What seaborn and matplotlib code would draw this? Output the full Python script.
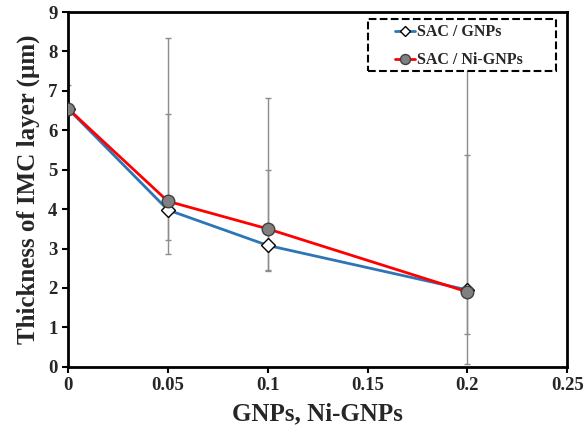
import matplotlib
matplotlib.use("Agg")
import matplotlib.pyplot as plt
from matplotlib.patches import Rectangle
import seaborn as sns
import numpy as np
import pandas as pd

# data
content = [0, 0.05, 0.1, 0.2]
gnps = [6.55, 3.98, 3.08, 1.95]
ni_gnps = [6.55, 4.2, 3.5, 1.9]

# error bar ends (low, high)
gnps_low = [6.55, 3.22, 2.46, 0.84]
gnps_high = [7.15, 6.42, 5.0, 5.38]
ni_low = [6.55, 2.87, 2.42, 0.08]
ni_high = [6.55, 8.35, 6.81, 7.9]

df = pd.DataFrame({
    'content': content * 2,
    'thickness': gnps + ni_gnps,
    'sample': ['SAC / GNPs'] * 4 + ['SAC / Ni-GNPs'] * 4,
})

sns.set_style("ticks")
plt.rcParams['font.family'] = ['Liberation Serif', 'DejaVu Serif']
plt.rcParams['font.weight'] = 'bold'

fig = plt.figure(figsize=(5.86, 4.3), dpi=100)
ax = fig.add_axes([0.116, 0.147, 0.852, 0.825])

# error bars
for vals, lo, hi in [(gnps, gnps_low, gnps_high), (ni_gnps, ni_low, ni_high)]:
    v = np.array(vals)
    yerr = [v - np.array(lo), np.array(hi) - v]
    ax.errorbar(content, v, yerr=yerr, fmt='none', ecolor='#8c8c8c',
                elinewidth=1, capsize=2, capthick=1, zorder=1)

palette = {'SAC / GNPs': '#2e75b6', 'SAC / Ni-GNPs': '#ff0000'}
sns.lineplot(data=df, x='content', y='thickness', hue='sample', style='sample',
             palette=palette, markers={'SAC / GNPs': 'D', 'SAC / Ni-GNPs': 'o'},
             dashes=False, linewidth=2, ax=ax, zorder=3)

# marker faces
for ln in ax.get_lines():
    if ln.get_marker() == 'D':
        ln.set_markerfacecolor('white')
        ln.set_markeredgecolor('black')
        ln.set_markersize(7)
        ln.set_markeredgewidth(1)
    elif ln.get_marker() == 'o':
        ln.set_markerfacecolor('#808080')
        ln.set_markeredgecolor('#404040')
        ln.set_markersize(9)
        ln.set_markeredgewidth(1)

ax.set_xlim(0, 0.25)
ax.set_ylim(0, 9)
ax.set_xticks([0, 0.05, 0.1, 0.15, 0.2, 0.25])
ax.set_xticklabels(['0', '0.05', '0.1', '0.15', '0.2', '0.25'])
ax.set_yticks(range(0, 10))
ax.tick_params(labelsize=13.5, direction='out', length=4, width=1.5, color='black')
for lab in ax.get_xticklabels() + ax.get_yticklabels():
    lab.set_fontweight('bold')

for s in ax.spines.values():
    s.set_visible(True)
    s.set_linewidth(2)
    s.set_color('black')

ax.set_xlabel('GNPs, Ni-GNPs', fontsize=18, fontweight='bold', labelpad=6)
ax.set_ylabel('Thickness of IMC layer (µm)', fontsize=18, fontweight='bold', labelpad=6)

# legend without frame, dashed box drawn separately
leg = ax.legend(loc='center left', bbox_to_anchor=(0.655, 0.903),
                fontsize=11.5, frameon=False, handlelength=1.25, handletextpad=0.1,
                labelspacing=0.75, markerscale=0.8, borderpad=0, borderaxespad=0)
leg.set_zorder(6)
for t in leg.get_texts():
    t.set_fontweight('bold')
for h in leg.legend_handles:
    h.set_linewidth(2)

box = Rectangle((0.60, 0.833), 0.378, 0.147, transform=ax.transAxes,
                facecolor='white', edgecolor='black', linestyle='--',
                linewidth=1.5, zorder=5)
ax.add_patch(box)

fig.savefig('out.png', dpi=100)
